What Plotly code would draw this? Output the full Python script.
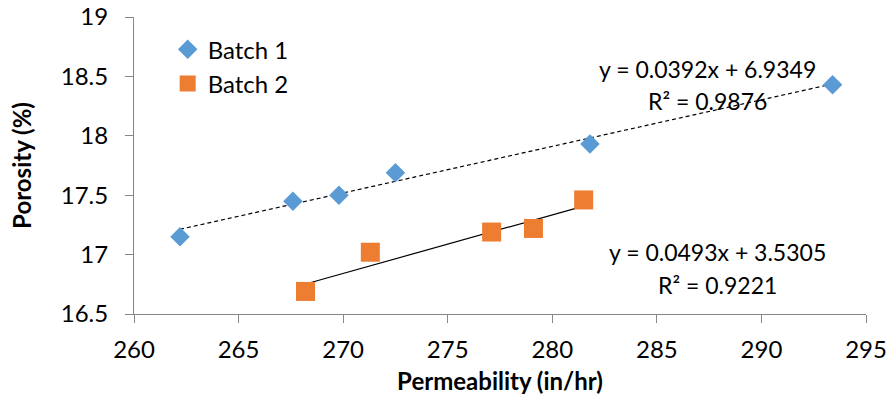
import plotly.graph_objects as go

# Data
batch1_x = [262.2, 267.6, 269.8, 272.5, 281.8, 293.4]
batch1_y = [17.15, 17.45, 17.50, 17.69, 17.93, 18.43]
batch2_x = [268.2, 271.3, 277.1, 279.1, 281.5]
batch2_y = [16.69, 17.02, 17.19, 17.22, 17.46]

trend1_slope, trend1_intercept, trend1_r2 = 0.0392, 6.9349, 0.9876
trend2_slope, trend2_intercept, trend2_r2 = 0.0493, 3.5305, 0.9221

x_ticks = [260, 265, 270, 275, 280, 285, 290, 295]
y_ticks = [16.5, 17, 17.5, 18, 18.5, 19]

FONT = "Lato, Carlito, Calibri, sans-serif"
FS = 24

def trend(xs, m, b):
    lo, hi = min(xs), max(xs)
    return [lo, hi], [m * lo + b, m * hi + b]

fig = go.Figure()

t1x, t1y = trend(batch1_x, trend1_slope, trend1_intercept)
t2x, t2y = trend(batch2_x, trend2_slope, trend2_intercept)

fig.add_trace(go.Scatter(x=t1x, y=t1y, mode="lines", showlegend=False,
                         line=dict(color="black", width=1.2, dash="4px,3px"), hoverinfo="skip"))
fig.add_trace(go.Scatter(x=t2x, y=t2y, mode="lines", showlegend=False,
                         line=dict(color="black", width=1.2), hoverinfo="skip"))

fig.add_trace(go.Scatter(x=batch1_x, y=batch1_y, mode="markers", name="Batch 1",
                         marker=dict(symbol="diamond", size=15, color="#5B9BD5")))
fig.add_trace(go.Scatter(x=batch2_x, y=batch2_y, mode="markers", name="Batch 2",
                         marker=dict(symbol="square", size=19, color="#ED7D31")))

def eq(m, b):
    return f"y = {m:.4f}x + {b:.4f}"

ann = [
    dict(x=287.4, y=18.56, text=eq(trend1_slope, trend1_intercept)),
    dict(x=287.4, y=18.29, text=f"R² = {trend1_r2:.4f}"),
    dict(x=287.9, y=17.02, text=eq(trend2_slope, trend2_intercept)),
    dict(x=287.9, y=16.74, text=f"R² = {trend2_r2:.4f}"),
]
for a in ann:
    fig.add_annotation(x=a["x"], y=a["y"], text=a["text"], xref="x", yref="y",
                       showarrow=False, xanchor="center", yanchor="middle",
                       font=dict(family=FONT, size=23, color="black"))

axis_common = dict(showline=True, linecolor="#868686", linewidth=1,
                   ticks="outside", tickcolor="#868686", ticklen=8,
                   showgrid=False, zeroline=False, automargin=False,
                   tickfont=dict(family=FONT, size=FS, color="black"))

fig.update_xaxes(range=[260, 295], tickvals=x_ticks, ticktext=[str(v) for v in x_ticks],
                 ticklabelstandoff=6,
                 title=dict(text="<b>Permeability (in/hr)</b>", standoff=11,
                            font=dict(family=FONT, size=FS, color="black")),
                 **axis_common)
fig.update_yaxes(range=[16.5, 19], tickvals=y_ticks, ticktext=[f"{v:g}" for v in y_ticks],
                 ticklabelstandoff=12,
                 title=dict(text="<b>Porosity (%)</b>", standoff=22,
                            font=dict(family=FONT, size=FS, color="black")),
                 **axis_common)

fig.update_layout(
    width=892, height=400,
    margin=dict(l=134, r=26, t=17, b=86),
    plot_bgcolor="white", paper_bgcolor="white",
    font=dict(family=FONT, color="black"),
    legend=dict(x=0.046, y=0.966, xanchor="left", yanchor="top",
                font=dict(family=FONT, size=FS, color="black"),
                traceorder="normal",
                bgcolor="rgba(0,0,0,0)"),
)

fig.write_html("out.html", config={"displayModeBar": False},
               post_script="document.body.style.margin='0';document.body.style.padding='0';")
